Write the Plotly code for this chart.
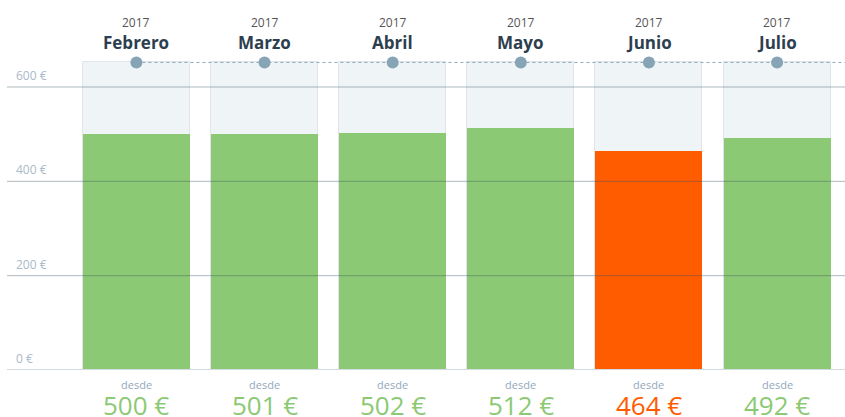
import plotly.graph_objects as go

years = ["2017", "2017", "2017", "2017", "2017", "2017"]
months = ["Febrero", "Marzo", "Abril", "Mayo", "Junio", "Julio"]
prices = [500, 501, 502, 512, 464, 492]
ref_max = 652
y_ticks = [0, 200, 400, 600]

GREEN = "#8cc975"
ORANGE = "#ff5c00"
x = list(range(len(months)))
colors = [ORANGE if p == min(prices) else GREEN for p in prices]
FONT = "Open Sans"

fig = go.Figure()
fig.add_trace(go.Bar(x=x, y=[ref_max] * len(x), width=0.835,
                     marker=dict(color="#eff4f7", line=dict(color="#dfe5ea", width=1)),
                     hoverinfo="skip"))
fig.add_trace(go.Bar(x=x, y=prices, width=0.835,
                     marker=dict(color=colors, line=dict(width=0)),
                     hovertemplate="%{y} €<extra></extra>"))

xr = [-1.01, 5.53]
# gridlines
for t in y_ticks:
    if t == 0:
        fig.add_shape(type="line", xref="paper", yref="y", x0=0, x1=1, y0=t, y1=t,
                      line=dict(color="#d3dae0", width=2), layer="above")
    else:
        fig.add_shape(type="line", xref="paper", yref="y", x0=0, x1=1, y0=t, y1=t,
                      line=dict(color="rgba(60,85,100,0.42)", width=1), layer="above")
    fig.add_annotation(xref="paper", yref="y", x=0.008, y=t, text=f"{t} €",
                       showarrow=False, xanchor="left", yanchor="bottom", yshift=1,
                       font=dict(family=FONT, size=12, color="#a9b9c9"))

# dashed reference line
fig.add_shape(type="line", xref="x", yref="y", x0=x[0], x1=xr[1], y0=ref_max, y1=ref_max,
              line=dict(color="#8ea8ba", width=1, dash="3px,3px"), layer="above")
fig.add_trace(go.Scatter(x=x, y=[ref_max] * len(x), mode="markers",
                         marker=dict(size=12, color="#87a3b6"), hoverinfo="skip"))

for i, (yr, m, p, c) in enumerate(zip(years, months, prices, colors)):
    fig.add_annotation(x=i, y=1, xref="x", yref="paper", yshift=-22, text=yr,
                       showarrow=False, yanchor="middle",
                       font=dict(family=FONT, size=12, color="#555555"))
    fig.add_annotation(x=i, y=1, xref="x", yref="paper", yshift=-42, text=f"<b>{m}</b>",
                       showarrow=False, yanchor="middle",
                       font=dict(family=FONT, size=17, color="#2d3e4f"))
    fig.add_annotation(x=i, y=0, xref="x", yref="paper", yshift=-14, text="desde",
                       showarrow=False, yanchor="middle",
                       font=dict(family=FONT, size=11, color="#93a8bb"))
    fig.add_annotation(x=i, y=0, xref="x", yref="paper", yshift=-35, text=f"{p} €",
                       showarrow=False, yanchor="middle",
                       font=dict(family=FONT, size=26, color=c))

fig.update_layout(
    width=845, height=417,
    margin=dict(l=7, r=0, t=0, b=47),
    barmode="overlay",
    showlegend=False,
    plot_bgcolor="white", paper_bgcolor="white",
    xaxis=dict(range=xr, showgrid=False, zeroline=False, showticklabels=False, fixedrange=True),
    yaxis=dict(range=[0, 784.4], showgrid=False, zeroline=False, showticklabels=False, fixedrange=True),
    bargap=0,
)
fig.write_html("out.html")
